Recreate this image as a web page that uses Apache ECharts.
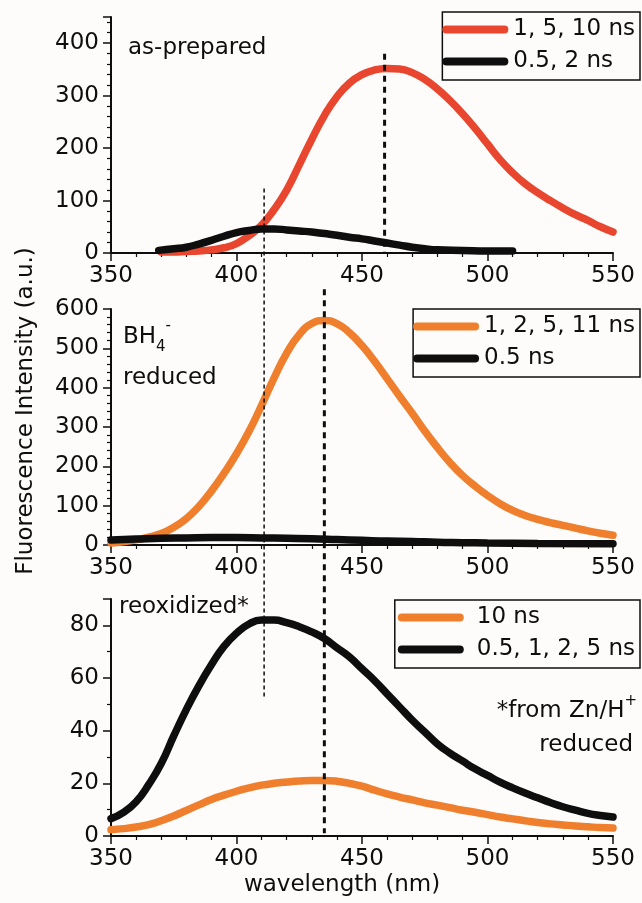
<!DOCTYPE html>
<html>
<head>
<meta charset="utf-8">
<script src="https://cdn.jsdelivr.net/npm/echarts@6/dist/echarts.min.js"></script>
<style>
  html, body { margin: 0; padding: 0; background: #fdfcfa; }
  #chart { width: 642px; height: 903px; }
</style>
</head>
<body>
<div id="chart"></div>
<script>
// wavelength (nm) / intensity pairs
const asPrepLong = [[370,2],[375,2],[380,3],[385,4],[390,6],[395,10],[400,18],[405,33],[410,53],[415,83],[420,120],[425,168],[430,217],[435,262],[440,298],[445,324],[450,340],[455,349],[460,352],[465,351],[470,344],[475,331],[480,313],[485,291],[490,266],[495,238],[500,208],[505,178],[510,153],[515,132],[520,115],[525,100],[530,86],[535,73],[540,62],[545,50],[550,40]]
const asPrepShort = [[369,5],[375,8],[380,11],[385,17],[390,24],[395,32],[400,39],[405,43],[410,46],[415,46],[420,44],[425,42],[430,40],[435,37],[440,34],[445,30],[450,27],[455,23],[460,19],[465,15],[470,11],[475,8],[480,6],[490,5],[500,4],[510,4]]
const bh4Long = [[350,5],[355,8],[360,13],[365,20],[370,29],[375,45],[380,67],[385,98],[390,137],[395,182],[400,232],[405,289],[410,355],[415,425],[420,488],[425,535],[430,563],[435,571],[440,563],[445,540],[450,507],[455,467],[460,423],[465,378],[470,335],[475,290],[480,248],[485,210],[490,177],[495,150],[500,126],[505,105],[510,88],[515,75],[520,65],[525,57],[530,50],[535,43],[540,36],[545,30],[550,25]]
const bh4Short = [[350,13],[360,15],[370,17],[380,18],[390,19],[400,19],[410,18],[420,17],[430,16],[440,14],[450,12],[460,10],[470,9],[480,7],[490,6],[500,5],[520,4],[550,3]]
const reoxLong = [[350,2.4],[355,2.8],[360,3.4],[365,4.3],[370,5.8],[375,7.6],[380,9.7],[385,11.8],[390,13.9],[395,15.5],[400,17],[405,18.3],[410,19.3],[415,20],[420,20.5],[425,20.9],[430,21.1],[435,21.1],[440,20.8],[445,20],[450,18.9],[455,17.4],[460,16],[465,14.8],[470,13.7],[475,12.6],[480,11.7],[485,10.8],[490,9.8],[495,9],[500,8.1],[505,7.2],[510,6.5],[515,5.8],[520,5.1],[525,4.6],[530,4.2],[535,3.8],[540,3.5],[545,3.2],[550,3]]
const reoxShort = [[350,6.6],[355,9],[360,13],[365,19.5],[370,27.5],[375,38],[380,48],[385,57],[390,65],[395,72],[400,77],[405,80.5],[410,82],[415,82],[420,81],[425,79.5],[430,77.5],[435,75],[440,71.5],[445,68],[450,63.5],[455,59],[460,54],[465,49],[470,44],[475,39.5],[480,35],[485,31.5],[490,28.5],[495,25.5],[500,23],[505,20.5],[510,18.3],[515,16.3],[520,14.5],[525,12.7],[530,11.1],[535,9.8],[540,8.6],[545,7.8],[550,7.2]]

const names = [['1, 5, 10 ns', '0.5, 2 ns'], ['1, 2, 5, 11 ns', '0.5 ns'], ['10 ns', '0.5, 1, 2, 5 ns']]
const yMax = [450, 600, 90]
const yStep = [100, 100, 20]
const yMinor = [5, 5, 2]

// guide lines: [wavelength, top panel, top value, bottom panel, bottom value]
const thinGuides = [[411, 0, 123, 2, 53]]
const thickGuides = [[459, 0, 380, 0, 0], [435, 1, 650, 2, 1]]

const FONT = 'DejaVu Sans'
const RED = '#e8462e'
const ORANGE = '#ef7e2d'
const BLACK = '#0e0e0e'
const gridTops = [17, 309, 599]

const chart = echarts.init(document.getElementById('chart'))

const axisCommon = {
  axisLine: { lineStyle: { color: BLACK, width: 2 } },
  axisTick: { inside: false, length: 8, lineStyle: { color: BLACK, width: 1.5 } },
  minorTick: { show: true, length: 4, lineStyle: { color: BLACK, width: 1.2 } },
  splitLine: { show: false },
  axisLabel: { color: BLACK, fontSize: 23, fontFamily: FONT, margin: 12 }
}

const capsule = 'path://M4,0H62A4,4,0,0,1,62,8H4A4,4,0,0,1,4,0Z'
const legendTops = [12, 309, 600]

const line = (name, data, i, color) => ({
  name, type: 'line', data, xAxisIndex: i, yAxisIndex: i,
  showSymbol: false, symbol: 'none', smooth: 0.5,
  lineStyle: { width: 7.5, color, cap: 'round' }, itemStyle: { color },
  emphasis: { disabled: true }
})

chart.setOption({
  backgroundColor: '#fdfcfa',
  animation: false,
  grid: gridTops.map((t, i) => ({ left: 111, top: t, width: 502, height: i === 2 ? 237 : 236 })),
  xAxis: [0, 1, 2].map(i => ({
    ...axisCommon, type: 'value', gridIndex: i, min: 350, max: 550, interval: 50,
    minorTick: { ...axisCommon.minorTick, splitNumber: 5 }
  })),
  yAxis: [0, 1, 2].map(i => ({
    ...axisCommon, type: 'value', gridIndex: i, min: 0, max: yMax[i], interval: yStep[i],
    minorTick: { ...axisCommon.minorTick, splitNumber: yMinor[i] },
    axisLabel: { ...axisCommon.axisLabel, showMaxLabel: yMax[i] % yStep[i] === 0 }
  })),
  legend: [0, 1, 2].map(i => ({
    data: names[i], orient: 'vertical', right: 2, top: legendTops[i],
    icon: capsule, itemWidth: 66, itemHeight: 8, itemGap: 9,
    padding: i === 2 ? [6, 5, 7, 3] : [6, 5, 7, 0],
    borderColor: BLACK, borderWidth: 1.5, selectedMode: false,
    itemStyle: { borderWidth: 0 },
    textStyle: { color: BLACK, fontSize: 23, fontFamily: FONT, padding: i === 2 ? [0, 0, 0, 8] : 0 }
  })),
  series: [
    line(names[0][0], asPrepLong, 0, RED),
    line(names[0][1], asPrepShort, 0, BLACK),
    line(names[1][0], bh4Long, 1, ORANGE),
    line(names[1][1], bh4Short, 1, BLACK),
    line(names[2][0], reoxLong, 2, ORANGE),
    line(names[2][1], reoxShort, 2, BLACK)
  ]
})

const toPx = (i, x, y) => chart.convertToPixel({ xAxisIndex: i, yAxisIndex: i }, [x, y])

const guide = (g, width, dash) => {
  const a = toPx(g[1], g[0], g[2])
  const b = toPx(g[3], g[0], g[4])
  return {
    type: 'line', z: 100, silent: true,
    shape: { x1: a[0], y1: a[1], x2: b[0], y2: b[1] },
    style: { stroke: BLACK, lineWidth: width, lineDash: dash }
  }
}

const txt = (text, x, y, align, extra, rotation) => ({
  type: 'text', x, y, z: 100, silent: true, rotation: rotation || 0,
  style: Object.assign({ text, fill: BLACK, fontSize: 23, fontFamily: FONT, align, verticalAlign: 'middle' }, extra || {})
})

const small = { fontSize: 15, fontFamily: FONT, fill: BLACK, lineHeight: 15 }

chart.setOption({
  graphic: {
    elements: [
      ...thinGuides.map(g => guide(g, 1.5, [4, 3])),
      ...thickGuides.map(g => guide(g, 3, [6, 5])),
      txt('as-prepared', 128, 48, 'left'),
      txt('{n|BH}{sub|4}{sup|-}', 123, 337, 'left', {
        rich: {
          n: { fontSize: 23, fontFamily: FONT, fill: BLACK, lineHeight: 36 },
          sub: { ...small, verticalAlign: 'bottom' },
          sup: { ...small, verticalAlign: 'top' }
        }
      }),
      txt('reduced', 123, 378, 'left'),
      txt('reoxidized*', 119, 607, 'left'),
      txt('{n|*from Zn/H}{sup|+}', 637, 711, 'right', {
        rich: {
          n: { fontSize: 23, fontFamily: FONT, fill: BLACK, lineHeight: 34 },
          sup: { ...small, verticalAlign: 'top' }
        }
      }),
      txt('reduced', 633, 745, 'right'),
      txt('Fluorescence Intensity (a.u.)', 26, 411, 'center', null, Math.PI / 2),
      txt('wavelength (nm)', 342, 885, 'center')
    ]
  }
})
</script>
</body>
</html>
